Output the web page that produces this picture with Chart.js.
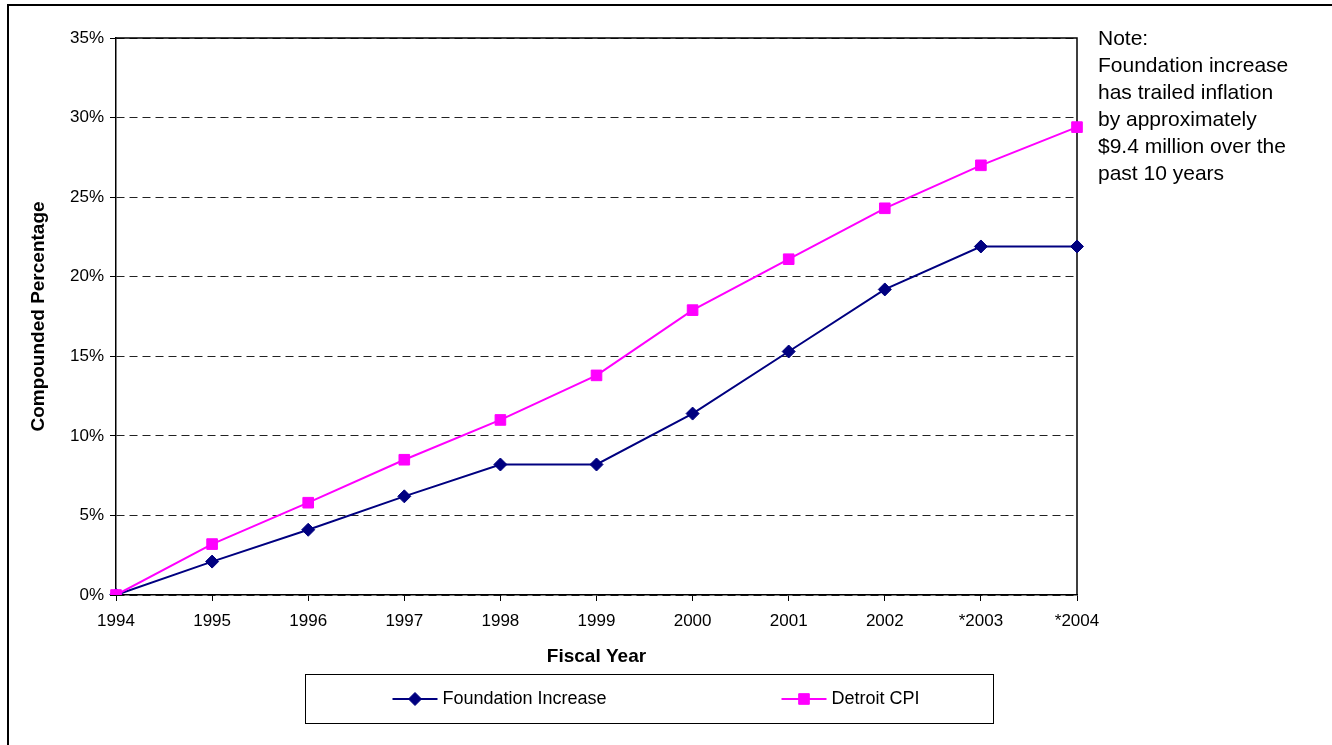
<!DOCTYPE html>
<html>
<head>
<meta charset="utf-8">
<script src="https://cdn.jsdelivr.net/npm/chart.js@4/dist/chart.umd.min.js"></script>
<style>
  html, body { margin: 0; padding: 0; background: #ffffff; }
  #wrap { width: 1332px; height: 745px; }
</style>
</head>
<body>
<div id="wrap"><canvas id="c" width="1332" height="745"></canvas></div>
<script>
// Fiscal years on the horizontal axis
const fiscalYears = ['1994', '1995', '1996', '1997', '1998', '1999', '2000', '2001', '2002', '*2003', '*2004'];
// Compounded percentage growth, per fiscal year
const foundationIncrease = [0, 2.1, 4.1, 6.2, 8.2, 8.2, 11.4, 15.3, 19.2, 21.9, 21.9];
const detroitCPI = [0, 3.2, 5.8, 8.5, 11.0, 13.8, 17.9, 21.1, 24.3, 27.0, 29.4];
// Vertical axis range and step (percent)
const yMin = 0;
const yMax = 35;
const yStep = 5;
// Side note text
const noteLines = [
  'Note:',
  'Foundation increase',
  'has trailed inflation',
  'by approximately',
  '$9.4 million over the',
  'past 10 years'
];

const FONT = "'Liberation Sans', Arial, sans-serif";
const NAVY = '#000080';
const MAGENTA = '#FF00FF';

// Outer frame, plot border, side note and boxed legend
const decorations = {
  id: 'decorations',
  beforeDraw(chart) {
    const ctx = chart.ctx;
    ctx.save();
    ctx.fillStyle = '#ffffff';
    ctx.fillRect(0, 0, chart.width, chart.height);
    ctx.strokeStyle = '#000000';
    ctx.lineWidth = 2;
    ctx.strokeRect(8, 5, chart.width + 20, chart.height + 20);
    ctx.restore();
  },
  beforeDatasetsDraw(chart) {
    const {ctx, chartArea: a} = chart;
    ctx.save();
    ctx.strokeStyle = '#000000';
    ctx.lineWidth = 1.5;
    ctx.beginPath();
    ctx.moveTo(a.left, a.top);
    ctx.lineTo(a.right, a.top);
    ctx.lineTo(a.right, a.bottom);
    ctx.stroke();
    ctx.restore();
  },
  afterDraw(chart) {
    const {ctx, chartArea: a} = chart;
    ctx.save();
    // side note
    ctx.fillStyle = '#000000';
    ctx.font = '21px ' + FONT;
    ctx.textAlign = 'left';
    ctx.textBaseline = 'middle';
    noteLines.forEach((line, i) => {
      ctx.fillText(line, a.right + 21, a.top + 1 + i * 27);
    });

    // legend box
    const box = {x: 305.5, y: 674.5, w: 688, h: 49};
    ctx.strokeStyle = '#000000';
    ctx.lineWidth = 1;
    ctx.strokeRect(box.x, box.y, box.w, box.h);
    const cy = box.y + box.h / 2;
    const slots = [box.x + 87, box.x + 476];
    chart.data.datasets.forEach((ds, i) => {
      const x0 = slots[i];
      ctx.strokeStyle = ds.borderColor;
      ctx.lineWidth = ds.borderWidth;
      ctx.beginPath();
      ctx.moveTo(x0, cy);
      ctx.lineTo(x0 + 45, cy);
      ctx.stroke();
      ctx.fillStyle = ds.pointBackgroundColor;
      ctx.strokeStyle = ds.pointBorderColor;
      ctx.lineWidth = 1;
      Chart.helpers.drawPoint(ctx, {
        pointStyle: ds.pointStyle,
        radius: ds.pointRadius,
        rotation: 0,
        borderWidth: 1
      }, x0 + 22.5, cy);
      ctx.fillStyle = '#000000';
      ctx.font = '18px ' + FONT;
      ctx.textAlign = 'left';
      ctx.textBaseline = 'middle';
      ctx.fillText(ds.label, x0 + 50, cy);
    });
    ctx.restore();
  }
};

const chart = new Chart(document.getElementById('c'), {
  type: 'line',
  data: {
    labels: fiscalYears,
    datasets: [
      {
        label: 'Foundation Increase',
        data: foundationIncrease,
        borderColor: NAVY,
        backgroundColor: NAVY,
        pointBackgroundColor: NAVY,
        pointBorderColor: NAVY,
        borderWidth: 2,
        pointStyle: 'rectRot',
        pointRadius: 6.5,
        pointBorderWidth: 1,
        tension: 0,
        order: 1
      },
      {
        label: 'Detroit CPI',
        data: detroitCPI,
        borderColor: MAGENTA,
        backgroundColor: MAGENTA,
        pointBackgroundColor: MAGENTA,
        pointBorderColor: MAGENTA,
        borderWidth: 2,
        pointStyle: 'rect',
        pointRadius: 7.5,
        pointBorderWidth: 1,
        tension: 0,
        order: 0
      }
    ]
  },
  options: {
    responsive: false,
    animation: false,
    devicePixelRatio: 1,
    layout: { padding: { left: 27, top: 38, right: 255, bottom: 77 } },
    plugins: {
      legend: { display: false },
      tooltip: { enabled: false }
    },
    scales: {
      x: {
        type: 'category',
        offset: false,
        afterFit(scale) { scale.height = 73; },
        grid: {
          drawOnChartArea: false,
          drawTicks: true,
          tickLength: 6,
          tickColor: '#000000',
          tickWidth: 1,
          color: '#000000'
        },
        border: { display: true, color: '#000000', width: 1.5 },
        ticks: {
          color: '#000000',
          font: { family: FONT, size: 17 },
          padding: 10,
          maxRotation: 0,
          autoSkip: false
        },
        title: {
          display: true,
          text: 'Fiscal Year',
          color: '#000000',
          font: { family: FONT, size: 19, weight: 'bold' },
          padding: 0
        }
      },
      y: {
        min: yMin,
        max: yMax,
        afterFit(scale) { scale.width = 89; },
        grid: {
          drawOnChartArea: true,
          color: '#222222',
          lineWidth: 1,
          drawTicks: true,
          tickLength: 6,
          tickColor: '#000000',
          tickWidth: 1,
          tickBorderDash: []
        },
        border: { display: true, color: '#000000', width: 1.5, dash: [8, 5] },
        ticks: {
          stepSize: yStep,
          color: '#000000',
          font: { family: FONT, size: 17 },
          padding: 6,
          callback: (v) => v + '%'
        },
        title: {
          display: true,
          text: 'Compounded Percentage',
          color: '#000000',
          font: { family: FONT, size: 19, weight: 'bold' },
          padding: 0
        }
      }
    }
  },
  plugins: [decorations]
});
</script>
</body>
</html>
